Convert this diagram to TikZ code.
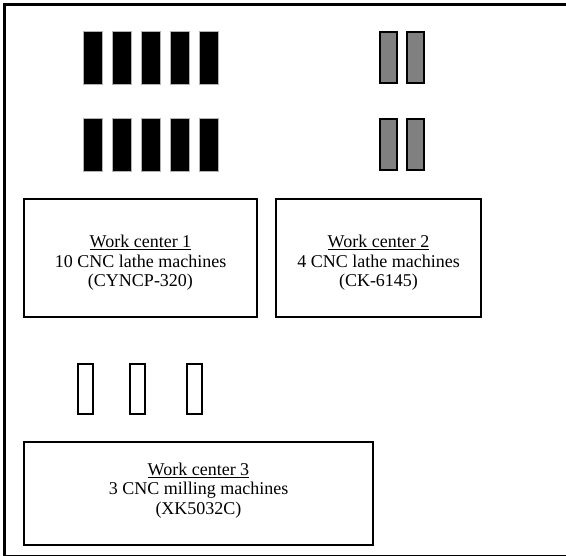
\documentclass[tikz,border=0pt]{standalone}
\usepackage{fontspec}
\setmainfont{Liberation Serif}
\usetikzlibrary{positioning}
\tikzset{
  wcbox/.style={draw, line width=2pt, outer sep=0, inner sep=0, anchor=north west},
  wclabel/.style={align=center, inner sep=0, font=\fontsize{18}{19.5}\selectfont},
  lathe/.style={draw=gray!60, line width=0.4pt, fill=black, outer sep=0, inner sep=0, anchor=north west, minimum width=19pt, minimum height=53pt},
  cklathe/.style={draw=black, line width=2pt, fill=gray, outer sep=0, inner sep=0, anchor=north west, minimum width=17pt, minimum height=51pt},
  mill/.style={draw=black, line width=1.6pt, fill=white, outer sep=0, inner sep=0, anchor=north west, minimum width=15pt, minimum height=50pt}
}
\begin{document}
\begin{tikzpicture}[x=1pt, y=-1pt]
        \useasboundingbox (0,0) rectangle (566,556);
        \clip (0,0) rectangle (566,556);
%%% Start frame
        \draw[line width=2.2pt] (580,4.5) -- (4.5,4.5) -- (4.5,556) -- (580,556);
%%% End frame
%%% Start Work center 1
        \foreach \i in {0,...,4} {
          \draw (83+29*\i,31) node[lathe] (lathea\i) {};
          \draw (83+29*\i,118) node[lathe] (latheb\i) {};
        }
        \draw (24,199) node[wcbox, minimum width=233pt, minimum height=118pt] (wc1) {};
        \draw (wc1.center) node[wclabel, yshift=-5pt] (wc1txt) {\underline{Work center 1}\\10 CNC lathe machines\\(CYNCP-320)};
%%% End Work center 1
%%% Start Work center 2
        \foreach \i in {0,1} {
          \draw (380+27*\i,32) node[cklathe] (cka\i) {};
          \draw (380+27*\i,119) node[cklathe] (ckb\i) {};
        }
        \draw (276,199) node[wcbox, minimum width=205pt, minimum height=118pt] (wc2) {};
        \draw (wc2.center) node[wclabel, yshift=-5pt] (wc2txt) {\underline{Work center 2}\\4 CNC lathe machines\\(CK-6145)};
%%% End Work center 2
%%% Start Work center 3
        \foreach \x [count=\i] in {78,130,187} {
          \draw (\x,364) node[mill] (mill\i) {};
        }
        \draw (24,442) node[wcbox, minimum width=349pt, minimum height=103pt] (wc3) {};
        \draw (wc3.center) node[wclabel, yshift=3pt] (wc3txt) {\underline{Work center 3}\\3 CNC milling machines\\(XK5032C)};
%%% End Work center 3
\end{tikzpicture}
\end{document}
